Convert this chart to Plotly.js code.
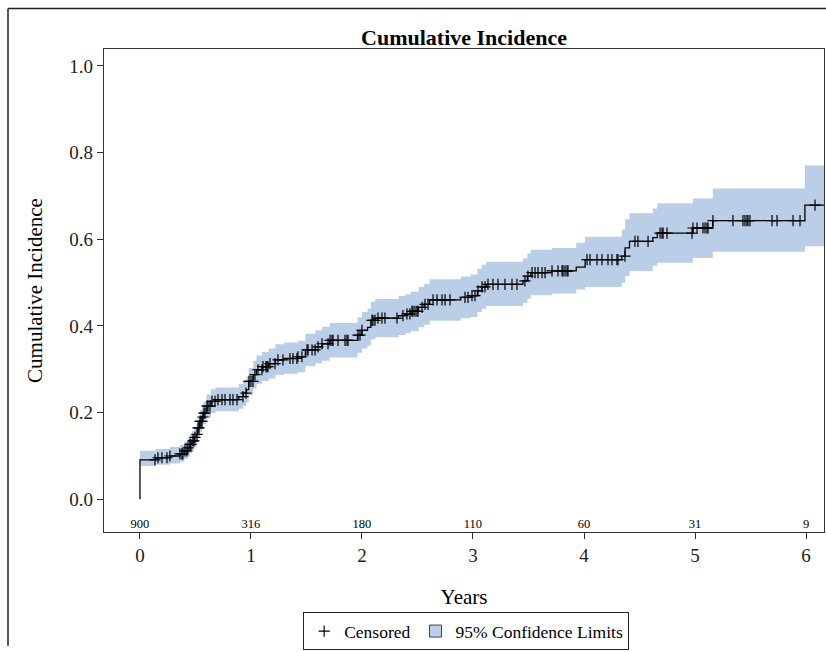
<!DOCTYPE html>
<html>
<head>
<meta charset="utf-8">
<script src="https://cdn.plot.ly/plotly-3.0.1.min.js"></script>
<style>html,body{margin:0;padding:0;background:#fff;}#chart{width:826px;height:652px;}</style>
</head>
<body>
<div id="chart"></div>
<script>
// Step times (years) with cumulative incidence estimate and 95% confidence limits
const stepTimes = [0.00,0.14,0.27,0.36,0.40,0.43,0.45,0.47,0.49,0.51,0.52,0.54,0.56,0.57,0.60,0.64,0.68,0.89,0.93,0.96,0.98,1.02,1.05,1.10,1.16,1.22,1.30,1.42,1.49,1.58,1.64,1.71,1.96,2.00,2.05,2.08,2.12,2.33,2.39,2.44,2.51,2.56,2.61,2.89,2.98,3.04,3.08,3.12,3.45,3.49,3.52,3.71,3.93,4.01,4.34,4.37,4.41,4.62,4.66,4.98,5.16,5.99];
const estimate  = [0.091,0.096,0.100,0.105,0.112,0.119,0.127,0.135,0.143,0.150,0.165,0.180,0.190,0.199,0.215,0.226,0.230,0.237,0.245,0.253,0.272,0.288,0.299,0.306,0.313,0.322,0.325,0.329,0.345,0.352,0.359,0.367,0.379,0.390,0.397,0.413,0.418,0.424,0.428,0.434,0.443,0.450,0.460,0.466,0.470,0.481,0.490,0.496,0.504,0.515,0.523,0.527,0.536,0.553,0.561,0.580,0.595,0.604,0.614,0.626,0.643,0.679];
const lowerCL   = [0.077,0.080,0.083,0.087,0.093,0.099,0.106,0.113,0.121,0.127,0.141,0.155,0.165,0.173,0.188,0.199,0.203,0.209,0.216,0.224,0.241,0.256,0.266,0.273,0.279,0.287,0.290,0.293,0.307,0.314,0.320,0.327,0.338,0.348,0.355,0.369,0.374,0.379,0.383,0.388,0.397,0.403,0.412,0.418,0.421,0.432,0.440,0.446,0.453,0.463,0.471,0.475,0.484,0.490,0.500,0.515,0.527,0.539,0.546,0.557,0.571,0.584];
const upperCL   = [0.112,0.116,0.121,0.126,0.134,0.142,0.150,0.158,0.167,0.174,0.190,0.206,0.216,0.226,0.242,0.254,0.258,0.266,0.275,0.284,0.303,0.320,0.332,0.340,0.348,0.358,0.362,0.366,0.382,0.390,0.398,0.407,0.420,0.432,0.440,0.456,0.462,0.469,0.473,0.479,0.490,0.497,0.508,0.514,0.519,0.532,0.541,0.548,0.556,0.567,0.576,0.580,0.592,0.606,0.622,0.646,0.660,0.671,0.683,0.694,0.717,0.770];
const lastTime = 6.17;

// Censoring times (years)
const censorTimes = [0.135,0.162,0.198,0.243,0.270,0.360,0.378,0.387,0.405,0.423,0.432,0.450,0.459,0.477,0.486,0.495,0.514,0.523,0.532,0.541,0.550,0.559,0.568,0.577,0.586,0.604,0.613,0.631,0.649,0.676,0.703,0.739,0.766,0.811,0.838,0.874,0.928,0.955,0.982,1.000,1.018,1.036,1.063,1.099,1.108,1.135,1.144,1.153,1.171,1.216,1.243,1.288,1.351,1.378,1.414,1.423,1.459,1.505,1.514,1.550,1.577,1.604,1.640,1.694,1.712,1.730,1.739,1.784,1.847,1.865,1.874,1.964,1.982,2.000,2.090,2.099,2.117,2.144,2.180,2.207,2.315,2.369,2.405,2.432,2.450,2.459,2.477,2.495,2.505,2.541,2.568,2.595,2.640,2.676,2.721,2.748,2.793,2.928,2.955,2.991,3.018,3.045,3.081,3.108,3.135,3.180,3.225,3.288,3.351,3.396,3.468,3.495,3.532,3.559,3.586,3.622,3.649,3.712,3.766,3.802,3.811,3.829,3.847,3.856,4.027,4.054,4.117,4.162,4.216,4.252,4.297,4.306,4.369,4.459,4.486,4.577,4.685,4.703,4.712,4.748,4.973,4.982,5.018,5.072,5.090,5.108,5.117,5.162,5.342,5.432,5.450,5.468,5.477,5.495,5.694,5.739,5.883,5.946,6.081];

// Number at risk
const atRiskTimes = [0,1,2,3,4,5,6];
const atRiskCounts = [900,316,180,110,60,31,9];

const xTicks = [0,1,2,3,4,5,6];
const yTicks = [0,0.2,0.4,0.6,0.8,1.0];
const yTickText = ['0.0','0.2','0.4','0.6','0.8','1.0'];

const bandColor = 'rgb(186,206,232)';
const serif = '"Liberation Serif", "Times New Roman", serif';

function valueAt(t){
  let v = estimate[0];
  for (let i=0;i<stepTimes.length;i++){ if (stepTimes[i] <= t) v = estimate[i]; else break; }
  return v;
}

const bandX = stepTimes.concat([lastTime]);
const traces = [
  { x: bandX, y: lowerCL.concat([lowerCL[lowerCL.length-1]]), mode:'lines', line:{shape:'hv', width:0, color:bandColor}, showlegend:false, hoverinfo:'skip' },
  { x: bandX, y: upperCL.concat([upperCL[upperCL.length-1]]), mode:'lines', line:{shape:'hv', width:0, color:bandColor}, fill:'tonexty', fillcolor:bandColor, showlegend:false, hoverinfo:'skip' },
  { x: [0].concat(stepTimes, [lastTime]), y: [0].concat(estimate, [estimate[estimate.length-1]]), mode:'lines', line:{shape:'hv', width:1.3, color:'black'}, showlegend:false },
  { x: censorTimes, y: censorTimes.map(valueAt), mode:'markers', name:'Censored', legendrank:1, marker:{symbol:'cross-thin', size:8, color:'black', line:{width:1.2, color:'black'}} },
  { x: [null], y: [null], mode:'markers', name:'95% Confidence Limits', legendrank:2, marker:{symbol:'square', size:12, color:bandColor, line:{width:1, color:'#444'}} },
  { x: atRiskTimes, y: atRiskTimes.map(()=>-0.058), mode:'text', text: atRiskCounts.map(String), textposition:'middle center', textfont:{family:serif, size:12.5, color:'black'}, showlegend:false, hoverinfo:'skip' }
];

const layout = {
  width: 826, height: 652,
  margin: {l:104, r:2, t:49, b:115},
  paper_bgcolor:'white', plot_bgcolor:'white',
  font: {family: serif, color:'black'},
  title: {text:'<b>Cumulative Incidence</b>', font:{family:serif, size:22, color:'black'}, x:0.5, xref:'paper', y:1-37/652, yref:'container', yanchor:'middle'},
  xaxis: {range:[-0.324, 6.162], tickvals:xTicks, ticks:'outside', ticklen:6, tickcolor:'#333', showline:true, linecolor:'#333', linewidth:1.2, mirror:true, showgrid:false, zeroline:false, tickfont:{family:serif, size:19, color:'#222'}, title:{text:'Years', font:{family:serif, size:21, color:'black'}, standoff:24}},
  yaxis: {range:[-0.0753, 1.039], tickvals:yTicks, ticktext:yTickText, ticks:'outside', ticklen:6, tickcolor:'#333', showline:true, linecolor:'#333', linewidth:1.2, mirror:true, showgrid:false, zeroline:false, tickfont:{family:serif, size:19, color:'#222'}, title:{text:'Cumulative Incidence', font:{family:serif, size:21, color:'black'}, standoff:21}},
  legend: {orientation:'h', traceorder:'normal', x:0.503, xanchor:'center', y:-0.166, yanchor:'top', bordercolor:'#222', borderwidth:1, font:{family:serif, size:17.5, color:'black'}, itemwidth:30, tracegroupgap:0},
  shapes: [
    {type:'line', xref:'paper', yref:'paper', x0:(8-104)/720, x1:(8-104)/720, y0:(537-8)/488, y1:(537-652)/488, line:{color:'#222', width:1.5}},
    {type:'line', xref:'paper', yref:'paper', x0:(8-104)/720, x1:(826-104)/720, y0:(537-8)/488, y1:(537-8)/488, line:{color:'#222', width:1.5}}
  ],
  showlegend: true
};

Plotly.newPlot('chart', traces, layout, {displayModeBar:false, staticPlot:true});
</script>
</body>
</html>
